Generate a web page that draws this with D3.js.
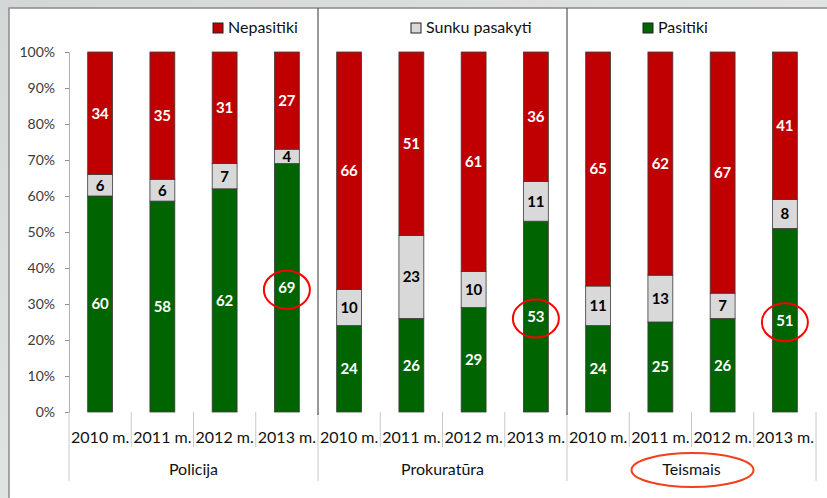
<!DOCTYPE html>
<html>
<head>
<meta charset="utf-8">
<script src="https://cdn.jsdelivr.net/npm/d3@7"></script>
<style>
  body { margin: 0; background: #fff; }
  svg { display: block; font-family: Lato, "Open Sans", sans-serif; }
</style>
</head>
<body>
<div id="chart"></div>
<script>
// data
let groups = ["Policija", "Prokuratūra", "Teismais"];
let years = ["2010 m.", "2011 m.", "2012 m.", "2013 m."];
let pasitiki = [60, 58, 62, 69, 24, 26, 29, 53, 24, 25, 26, 51];
let sunku = [6, 6, 7, 4, 10, 23, 10, 11, 11, 13, 7, 8];
let nepasitiki = [34, 35, 31, 27, 66, 51, 61, 36, 65, 62, 67, 41];
let seriesNames = ["Pasitiki", "Sunku pasakyti", "Nepasitiki"];
let seriesColors = ["#006400", "#d9d9d9", "#c00000"];
let labelColors = ["#fff", "#000", "#fff"];
let yTicks = [0, 0.1, 0.2, 0.3, 0.4, 0.5, 0.6, 0.7, 0.8, 0.9, 1];
let circled = [3, 7, 11]; // highlighted bars
let circledGroup = 2;

function drawChart() {
  let W = 827, H = 498;
  let rows = pasitiki.map((v, i) => ({
    idx: i,
    "Pasitiki": v,
    "Sunku pasakyti": sunku[i],
    "Nepasitiki": nepasitiki[i]
  }));

  let svg = d3.select("#chart").append("svg")
    .attr("width", W).attr("height", H);

  // slide background + white chart box
  let grad = svg.append("defs").append("linearGradient")
    .attr("id", "bg").attr("x1", 0).attr("y1", 0).attr("x2", 1).attr("y2", 1);
  grad.append("stop").attr("offset", "0%").attr("stop-color", "#d3d7d7");
  grad.append("stop").attr("offset", "100%").attr("stop-color", "#eef0f0");
  svg.append("rect").attr("width", W).attr("height", H).attr("fill", "url(#bg)");
  svg.append("rect")
    .attr("x", 9).attr("y", 8).attr("width", W).attr("height", H)
    .attr("fill", "#fff").attr("stroke", "#8a8a8a").attr("stroke-width", 1.5);

  let left = 69, right = 816, top = 52, bottom = 412;

  let x = d3.scaleBand()
    .domain(d3.range(pasitiki.length))
    .range([left, right])
    .paddingInner(0.6)
    .paddingOuter(0.3);
  let step = x.step();
  let y = d3.scaleLinear().domain([0, 1]).range([bottom, top]);

  let stacked = d3.stack()
    .keys(seriesNames)
    .offset(d3.stackOffsetExpand)(rows);

  // y axis
  let yAxis = svg.append("g")
    .attr("transform", "translate(" + left + ",0)")
    .call(d3.axisLeft(y).tickValues(yTicks).tickFormat(d3.format(".0%"))
      .tickSize(4).tickPadding(10));
  yAxis.select(".domain").attr("stroke", "#b0b0b0");
  yAxis.selectAll(".tick line").attr("stroke", "#909090");
  yAxis.selectAll("text")
    .style("font-size", "14px").style("font-family", "Lato, sans-serif")
    .attr("fill", "#3a3a3a");

  // category axis lines (below plot)
  let tickX = d3.range(pasitiki.length + 1).map(i => left + i * step);
  svg.selectAll(".ytick")
    .data(tickX)
    .enter()
    .append("line")
    .attr("x1", d => d).attr("x2", d => d)
    .attr("y1", bottom)
    .attr("y2", (d, i) => (i % 4 === 0 ? 481 : 447))
    .attr("stroke", "#c8c8c8")
    .attr("stroke-width", 1);

  // group separators inside plot
  svg.selectAll(".sep")
    .data([1, 2])
    .enter()
    .append("line")
    .attr("x1", d => left + d * 4 * step)
    .attr("x2", d => left + d * 4 * step)
    .attr("y1", 8)
    .attr("y2", bottom + 3)
    .attr("stroke", "#555")
    .attr("stroke-width", 1.2);

  // bars
  let layers = svg.selectAll(".layer")
    .data(stacked)
    .enter()
    .append("g")
    .attr("fill", (d, i) => seriesColors[i]);
  layers.selectAll("rect")
    .data(d => d)
    .enter()
    .append("rect")
    .attr("x", (d, i) => x(i))
    .attr("width", x.bandwidth())
    .attr("y", d => y(d[1]))
    .attr("height", d => y(d[0]) - y(d[1]))
    .attr("stroke", "#3c3c3c")
    .attr("stroke-width", 0.8);

  // value labels
  stacked.forEach((layer, si) => {
    svg.append("g")
      .selectAll("text")
      .data(layer)
      .enter()
      .append("text")
      .attr("x", (d, i) => x(i) + x.bandwidth() / 2)
      .attr("y", d => y((d[0] + d[1]) / 2))
      .attr("dy", "0.36em")
      .attr("text-anchor", "middle")
      .attr("fill", labelColors[si])
      .style("font-size", "15px")
      .style("font-weight", "bold")
      .text(d => d.data[layer.key]);
  });

  // year labels
  svg.append("g")
    .selectAll("text")
    .data(pasitiki)
    .enter()
    .append("text")
    .attr("x", (d, i) => x(i) + x.bandwidth() / 2)
    .attr("y", 443)
    .attr("text-anchor", "middle")
    .attr("fill", "#111")
    .style("font-size", "16px")
    .text((d, i) => years[i % years.length]);

  // group labels
  svg.append("g")
    .selectAll("text")
    .data(groups)
    .enter()
    .append("text")
    .attr("x", (d, i) => left + (i * 4 + 2) * step)
    .attr("y", 475)
    .attr("text-anchor", "middle")
    .attr("fill", "#111")
    .style("font-size", "16px")
    .text(d => d);

  // legend
  let legendX = [213, 411, 643];
  let legend = svg.append("g")
    .selectAll("g")
    .data([2, 1, 0])
    .enter()
    .append("g")
    .attr("transform", (d, i) => "translate(" + legendX[i] + ",23)");
  legend.append("rect")
    .attr("width", 10).attr("height", 10)
    .attr("fill", d => seriesColors[d])
    .attr("stroke", "#222").attr("stroke-width", 1);
  legend.append("text")
    .attr("x", 15).attr("y", 10)
    .attr("fill", "#111")
    .style("font-size", "16px")
    .text(d => seriesNames[d]);

  // red highlight circles
  svg.append("g")
    .selectAll("ellipse")
    .data(circled)
    .enter()
    .append("ellipse")
    .attr("cx", d => x(d) + x.bandwidth() / 2)
    .attr("cy", d => y(stacked[0][d][1] / 2) + 2)
    .attr("rx", 23)
    .attr("ry", 19)
    .attr("fill", "none")
    .attr("stroke", "#ff0000")
    .attr("stroke-width", 2);
  svg.append("ellipse")
    .attr("cx", left + (circledGroup * 4 + 2) * step + 1)
    .attr("cy", 470)
    .attr("rx", 61)
    .attr("ry", 17)
    .attr("fill", "none")
    .attr("stroke", "#f2401c")
    .attr("stroke-width", 2);
}
drawChart();
</script>
</body>
</html>
